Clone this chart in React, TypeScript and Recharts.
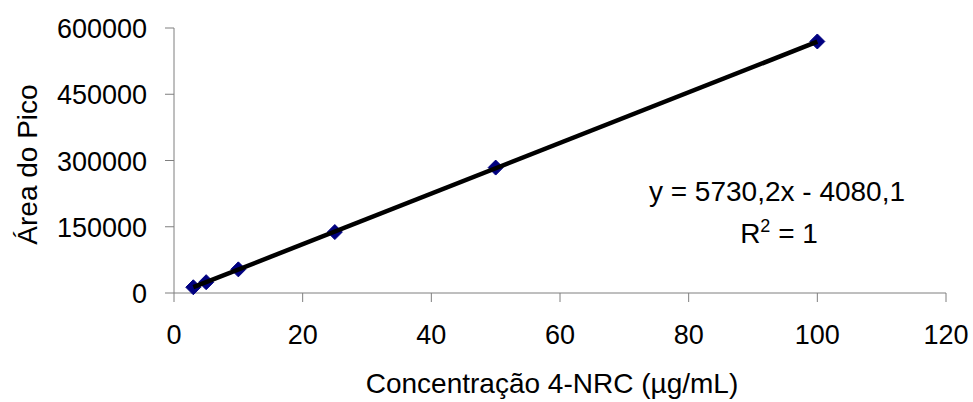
import React from "react";
import { ComposedChart, Scatter, XAxis, YAxis } from "recharts";

const concentrations = [3, 5, 10, 25, 50, 100];
const areas = [13000, 24500, 53500, 138000, 284000, 569500];

const trendX = [3, 100];
const trendY = [13110, 568940];

const xTicks = [0, 20, 40, 60, 80, 100, 120];
const yTicks = [0, 150000, 300000, 450000, 600000];

const equationText = "y = 5730,2x - 4080,1";
const r2Text = "= 1";

const xTitle = "Concentração 4-NRC (µg/mL)";
const yTitle = "Área do Pico";

const points = concentrations.map((x, i) => ({ x, y: areas[i] }));
const trend = trendX.map((x, i) => ({ x, y: trendY[i] }));

const FONT = "Arial, 'Liberation Sans', sans-serif";
const FS = 27;
const FS_TITLE = 28;
const AXIS = "#7f7f7f";

const Diamond = (props: any) => {
  const { cx, cy } = props;
  if (cx == null || cy == null) return <g />;
  const r = 7.5;
  return (
    <path
      d={`M${cx},${cy - r} L${cx + r},${cy} L${cx},${cy + r} L${cx - r},${cy} Z`}
      fill="#000080"
      stroke="#000080"
      strokeWidth={1}
    />
  );
};

const NoShape = () => <g />;

const YTick = (props: any) => {
  const { x, y, payload } = props;
  return (
    <text x={x} y={y + 10} textAnchor="end" fontFamily={FONT} fontSize={FS} fill="#000">
      {payload.value}
    </text>
  );
};

const XTick = (props: any) => {
  const { x, y, payload } = props;
  return (
    <text x={x} y={y + 36} textAnchor="middle" fontFamily={FONT} fontSize={FS} fill="#000">
      {payload.value}
    </text>
  );
};

export default function App() {
  return (
    <div style={{ position: "absolute", left: 0, top: 0, width: 973, height: 402, background: "#fff" }}>
      <ComposedChart
        width={973}
        height={402}
        margin={{ top: 28, right: 27, bottom: 0, left: 0 }}
      >
        <XAxis
          type="number"
          dataKey="x"
          domain={[0, 120]}
          ticks={xTicks}
          interval={0}
          stroke={AXIS}
          tickSize={9}
          tickMargin={6}
          height={109}
          tick={<XTick />}
          tickLine={{ stroke: AXIS }}
          label={{
            content: (p: any) => {
              const vb = p.viewBox;
              return (
                <text
                  x={vb.x + vb.width / 2 - 8}
                  y={vb.y + 100}
                  textAnchor="middle"
                  fontFamily={FONT}
                  fontSize={FS_TITLE}
                  fill="#000"
                >
                  {xTitle}
                </text>
              );
            },
          }}
        />
        <YAxis
          type="number"
          dataKey="y"
          domain={[0, 600000]}
          ticks={yTicks}
          interval={0}
          width={174}
          stroke={AXIS}
          tickSize={9}
          tickMargin={18}
          tick={<YTick />}
          tickLine={{ stroke: AXIS }}
          label={{
            content: (p: any) => {
              const vb = p.viewBox;
              const cx = vb.x + 37;
              const cy = vb.y + vb.height / 2 + 4;
              return (
                <text
                  x={cx}
                  y={cy}
                  textAnchor="middle"
                  transform={`rotate(-90, ${cx}, ${cy})`}
                  fontFamily={FONT}
                  fontSize={FS_TITLE}
                  fill="#000"
                >
                  {yTitle}
                </text>
              );
            },
          }}
        />
        <Scatter data={points} shape={<Diamond />} isAnimationActive={false} />
        <Scatter
          data={trend}
          shape={<NoShape />}
          line={{ stroke: "#000", strokeWidth: 4.5 }}
          isAnimationActive={false}
        />
      </ComposedChart>
      <svg
        width={973}
        height={402}
        style={{ position: "absolute", left: 0, top: 0, pointerEvents: "none" }}
      >
        <text x={777} y={201} textAnchor="middle" fontFamily={FONT} fontSize={FS_TITLE} fill="#000">
          {equationText}
        </text>
        <text x={779} y={243} textAnchor="middle" fontFamily={FONT} fontSize={FS_TITLE} fill="#000">
          <tspan>R</tspan>
          <tspan dy={-11} fontSize={18}>2</tspan>
          <tspan dy={11}> {r2Text}</tspan>
        </text>
      </svg>
    </div>
  );
}
